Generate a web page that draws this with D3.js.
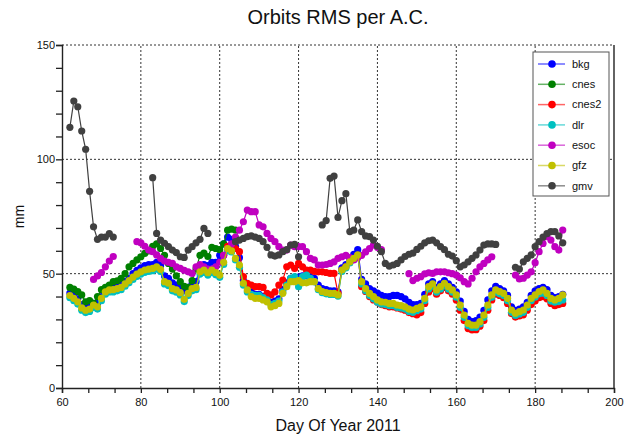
<!DOCTYPE html>
<html>
<head>
<meta charset="utf-8">
<script src="https://cdn.jsdelivr.net/npm/d3@7"></script>
<style>
  body { margin: 0; background: #fff; }
  text { font-family: "Liberation Sans", Arial, sans-serif; fill: #111; }
</style>
</head>
<body>
<svg id="chart" width="635" height="436"></svg>
<script>
// day of year of the first value in every series
const firstDay = 62;

const seriesNames = ["bkg", "cnes", "cnes2", "dlr", "esoc", "gfz", "gmv"];
const seriesColors = ["#0000ff", "#008000", "#ff0000", "#00c0c0", "#c000c0", "#c0c000", "#404040"];

const xTicks = [60, 80, 100, 120, 140, 160, 180, 200];
const yTicks = [0, 50, 100, 150];

// days 62 .. 187, null = no solution
const bkg = [41.5, 40.5, 39, 36.5, 35, 35.5, 37, 37, 40, 43, 44, 44.5, 44.5, 45.5, 46.5, 48, 50, 51.5, 52.5, 53.5,
  54, 54, 55, 53.5, 49, 48, 46, 45, 44, 42.5, 44, 45.5, 46.5, 53, 54, 53.5, 55, 55, 58, 63,
  66, 65, 62, 57, 47, 44.5, 42, 41, 41, 40, 39.5, 37.5, 38, 39, 43, 46, 48, 48, 48.5, 49,
  49, 48.5, 48, 45, 43.5, 43, 42.5, 42.5, 42, 52.5, 54, 56.5, 58.5, 60.5, 47.5, 45.5, 43.5, 42.5, 41.5, 40.5,
  40, 40, 40.5, 40.5, 40, 39, 37.5, 36.5, 36.5, 37, 41, 45.5, 46.5, 44, 45.5, 47, 45.5, 44, 42, 38,
  33.5, 30, 29, 29.5, 31, 34, 38.5, 42.5, 44.5, 43.5, 42.5, 40.5, 35.5, 34, 34.5, 35.5, 37.5, 40.5, 42.5, 43.5,
  44, 43, 40.5, 39.5, 40, 41];

const cnes = [44, 43.2, 42.2, 40.7, 37.7, 38.2, 37, 40, 43, 44, 45, 46.5, 46.9, 48, 50, 53, 54.5, 56, 57.4, 58.9,
  60, 62, 63, 61, 58, 54.5, 52, 49, 46.5, 44.5, 44, 47, 52, 58, 59, 57.5, 61.5, 61, 60.5, 63,
  69, 69.5, 69];

const cnes2 = [null, null, null, null, null, null, null, null, null, null, null, null, null, null, null, null, null, null, null, null,
  null, null, null, null, null, null, null, null, null, null, null, null, null, null, null, null, null, null, null, 58,
  62, 62.5, 61, 59.6, 48.7, 45.8, 45, 44.3, 44.3, 44, 41.4, 40.7, 42, 45, 47.2, 53, 53.8, 52.3, 54.5, 53,
  51.6, 51.6, 51, 50.8, 50.8, 50.5, 50.1, 50.1, 41.4, 51.6, 53, 55, 56.5, 58, 44.3, 42.2, 40, 38.5, 37.5, 36.5,
  36, 35.5, 35.5, 35, 34.5, 34, 33, 32.5, 32, 33, 37, 42, 43.5, 41, 42.5, 44, 42.5, 41, 38.5, 34,
  29.5, 26, 25.4, 25.5, 27, 29.5, 34, 38.5, 41, 40.5, 39.5, 37, 32.5, 31, 31.5, 32, 34, 36.5, 38, 39.5,
  40, 39, 37, 36, 36.5, 37];

const dlr = [39.5, 38.2, 36.7, 34, 33, 33.5, 35.3, 34.5, 38.2, 41, 42, 42, 42.5, 43, 44.5, 46, 47.5, 48.8, 49.8, 50.6,
  51, 51.3, 52, 51, 45.5, 44.8, 42.5, 41.9, 40.7, 37.8, 40.4, 42.5, 43, 49.8, 50.6, 49.4, 50.6, 49.5, 48.4, 54,
  60, 59.5, 56, 52.8, 45, 42, 41, 40.5, 40.5, 39.5, 38.5, 36.5, 37, 38, 42, 45, 48, 48.7, 44.3, 48.7,
  49.4, 48, 46.5, 43, 41.7, 41.2, 40.9, 40.9, 40.2, 51, 52.5, 54.7, 56.2, 57.7, 45.5, 42.5, 40.4, 39, 37.5, 36.7,
  36.5, 36, 36, 35.3, 35, 34.5, 33.5, 33.1, 33.8, 34.5, 38.2, 43.3, 44.5, 41.9, 43.3, 44.8, 43.3, 41.9, 39.7, 35.3,
  30.9, 27.3, 26.5, 26.5, 28, 30.9, 35.3, 39.7, 41.9, 41.2, 40.4, 38.2, 33.1, 31.7, 32.4, 33.1, 35.3, 38.2, 39.7, 41.2,
  41.5, 40.5, 38, 37.5, 37.8, 38.5];

const esoc = [null, null, null, null, null, null, 47.5, 49, 50.5, 53, 55.5, 57.5, null, null, null, null, null, 64, 63.5, 62,
  60.3, 59.6, 58.2, 56.7, 55.5, 55, 54.5, 53, 52.3, 51.5, 50.8, 50.1, 53, 54, 53, 52, 52, 53, 55, 58,
  61, 63, 66, 69, 72.7, 77.8, 77.1, 77.1, 71.3, 70.5, 67.6, 65.4, 64, 61.8, 60.3, 60.3, 62.5, 61.8, 61.8, 61.8,
  59.6, 56.7, 56, 53.8, 53.8, 54, 54.5, 55.2, 56.7, 57.4, 58, 57, 56, 57, 58, 59.5, 61, 62.5, 61.5, 60.5,
  null, null, null, null, null, null, 50, 47, 48, 48.7, 49.9, 50.4, 50.1, 50.8, 50.8, 50.8, 50.4, 50, 49.4, 48.2,
  46.5, 45.5, 48, 50.8, 53, 54.5, 56, 57.4, null, null, null, null, null, 49.4, 47.7, 48, 49.4, 50.8, 54.8, 59.6,
  63.2, 66.2, 64.7, 61.8, 60.3, 69.1];

const gfz = [40.4, 39.2, 37.7, 35, 34, 34.5, 36.3, 35.5, 39.2, 42, 42.9, 43, 43.5, 44, 45.5, 47, 48.5, 49.8, 50.8, 51.6,
  52, 52.3, 53, 51.9, 46.5, 45.8, 43.5, 42.9, 41.7, 38.8, 41.4, 43.5, 44, 50.8, 51.6, 50.4, 51.6, 50.5, 49.4, 55,
  61, 60, 56.7, 53.8, 45.8, 42.9, 40, 39.2, 39.2, 38.5, 37.7, 35.5, 36, 37, 41.4, 44.3, 46.5, 46.5, 47, 46,
  46, 46.5, 46.5, 43.5, 42.2, 41.7, 41.4, 41.4, 40.7, 51.6, 53, 55.2, 56.7, 58.2, 46.5, 43.5, 41.4, 40, 38.5, 37.7,
  37.5, 37, 37, 36.3, 36, 35.5, 34.5, 34.1, 34.8, 35.5, 39.2, 44.3, 45.5, 42.9, 44.3, 45.8, 44.3, 42.9, 40.7, 36.3,
  31.9, 28.3, 27.5, 27.5, 29, 31.9, 36.3, 40.7, 42.9, 42.2, 41.4, 39.2, 34.1, 32.7, 33.4, 34.1, 36.3, 39.2, 40.7, 42.2,
  42.9, 41.4, 39.2, 38.5, 39.2, 40.7];

const gmv = [114, 125.5, 123, 112.4, 104.4, 86, 70.5, 65, 66, 66, 67.5, 66, null, null, null, null, null, null, null, null,
  null, 92, 67.6, 64.7, 63.3, 61.8, 60.3, 59.2, 57.4, 57.1, 60.3, 61.8, 63.5, 65, 69.8, 67.6, null, null, null, null,
  null, null, 64, 64.7, 65.4, 66.2, 66.5, 66, 65.4, 64, 61.5, 58.2, 57.7, 58.2, 59.6, 60.5, 62.5, 62.8, 57.4, null,
  null, null, null, null, 71.3, 73.2, 91.7, 92.7, 74.6, 81.9, 85, 68.4, 69, 73.5, 68.4, 66.5, 66.2, 64.7, 62, 59.6,
  54.5, 53.3, 53.8, 54.5, 56, 57.5, 58.5, 59, 60.6, 62, 63.5, 64.4, 64.7, 63.5, 61.8, 60.5, 58.5, 57.7, 55.7, 53,
  53.8, 55.2, 56.7, 58.2, 60.3, 62.5, 63, 63, 62.8, null, null, null, null, 52.8, 52, 55.2, 56.7, 58.2, 61.8, 64,
  66, 67.5, 68.4, 68.4, 66.5, 63.5];

const seriesValues = [bkg, cnes, cnes2, dlr, esoc, gfz, gmv];

const width = 635, height = 436;
const margin = { top: 45, right: 21, bottom: 48, left: 62 };

const svg = d3.select("#chart");

const x = d3.scaleLinear().domain([60, 200]).range([margin.left, width - margin.right]);
const y = d3.scaleLinear().domain([0, 150]).range([height - margin.bottom, margin.top]);

// grid
const grid = svg.append("g")
  .attr("stroke", "#333").attr("stroke-width", 1).attr("stroke-dasharray", "2,2");
grid.selectAll(".gx").data(xTicks.slice(1, -1)).enter().append("line")
  .attr("x1", d => x(d)).attr("x2", d => x(d))
  .attr("y1", y(0)).attr("y2", y(150));
grid.selectAll(".gy").data(yTicks.slice(1)).enter().append("line")
  .attr("x1", x(60)).attr("x2", x(200))
  .attr("y1", d => y(d)).attr("y2", d => y(d));

// axes
const xAxis = d3.axisBottom(x)
  .tickValues(d3.range(0, 22).map(i => 60 + i * 20 / 3))
  .tickSize(5)
  .tickFormat(d => xTicks.includes(Math.round(d * 1000) / 1000) ? d3.format("d")(d) : "");
const gx = svg.append("g")
  .attr("transform", `translate(0,${y(0)})`)
  .call(xAxis);

const yAxis = d3.axisLeft(y)
  .tickValues(d3.range(0, 151, 10))
  .tickSize(6)
  .tickFormat(d => yTicks.includes(d) ? d : "");
const gy = svg.append("g")
  .attr("transform", `translate(${x(60)},0)`)
  .call(yAxis);

[gx, gy].forEach(g => {
  g.select(".domain").attr("stroke", "#222").attr("stroke-width", 1.4);
  g.selectAll(".tick line").attr("stroke", "#222").attr("stroke-width", 1.3);
  g.selectAll(".tick text")
    .attr("font-family", "Liberation Sans, Arial, sans-serif")
    .attr("font-size", 11).attr("fill", "#111");
});
gx.selectAll(".tick text").attr("dy", "0.9em");
gy.selectAll(".tick text").attr("x", -7);

// right border
svg.append("line")
  .attr("x1", x(200)).attr("x2", x(200))
  .attr("y1", y(0)).attr("y2", y(150))
  .attr("stroke", "#222").attr("stroke-width", 1.4);

// series
const line = d3.line()
  .defined(d => d.v !== null)
  .x(d => x(d.day))
  .y(d => y(d.v));

seriesNames.forEach((name, i) => {
  const pts = seriesValues[i].map((v, k) => ({ day: firstDay + k, v: v }));
  const g = svg.append("g").attr("class", "series-" + name);
  g.append("path")
    .datum(pts)
    .attr("fill", "none")
    .attr("stroke", seriesColors[i])
    .attr("stroke-width", 1.2)
    .attr("d", line);
  g.selectAll("circle")
    .data(pts.filter(d => d.v !== null))
    .enter()
    .append("circle")
    .attr("cx", d => x(d.day))
    .attr("cy", d => y(d.v))
    .attr("r", 3.6)
    .attr("fill", seriesColors[i]);
});

// legend
const legend = svg.append("g").attr("transform", "translate(533,52)");
legend.append("rect")
  .attr("width", 76).attr("height", 144)
  .attr("fill", "#fff").attr("stroke", "#555").attr("stroke-width", 1);
const rows = legend.selectAll(".row")
  .data(seriesNames)
  .enter()
  .append("g")
  .attr("transform", (d, i) => `translate(0,${12 + i * 20.3})`);
rows.append("line")
  .attr("x1", 5).attr("x2", 32)
  .attr("stroke", (d, i) => seriesColors[i])
  .attr("stroke-opacity", 0.6)
  .attr("stroke-width", 1.5);
rows.append("circle")
  .attr("cx", 19).attr("r", 3.8)
  .attr("fill", (d, i) => seriesColors[i]);
rows.append("text")
  .attr("x", 39).attr("dy", "0.35em")
  .attr("font-size", 11)
  .text(d => d);

// titles
svg.append("text")
  .attr("x", (margin.left + width - margin.right) / 2).attr("y", 24)
  .attr("text-anchor", "middle")
  .attr("font-size", 20)
  .text("Orbits RMS per A.C.");
svg.append("text")
  .attr("x", (margin.left + width - margin.right) / 2).attr("y", 431)
  .attr("text-anchor", "middle")
  .attr("font-size", 16)
  .text("Day Of Year 2011");
svg.append("text")
  .attr("transform", `translate(24,${(y(0) + y(150)) / 2}) rotate(-90)`)
  .attr("text-anchor", "middle")
  .attr("font-size", 14)
  .text("mm");
</script>
</body>
</html>
